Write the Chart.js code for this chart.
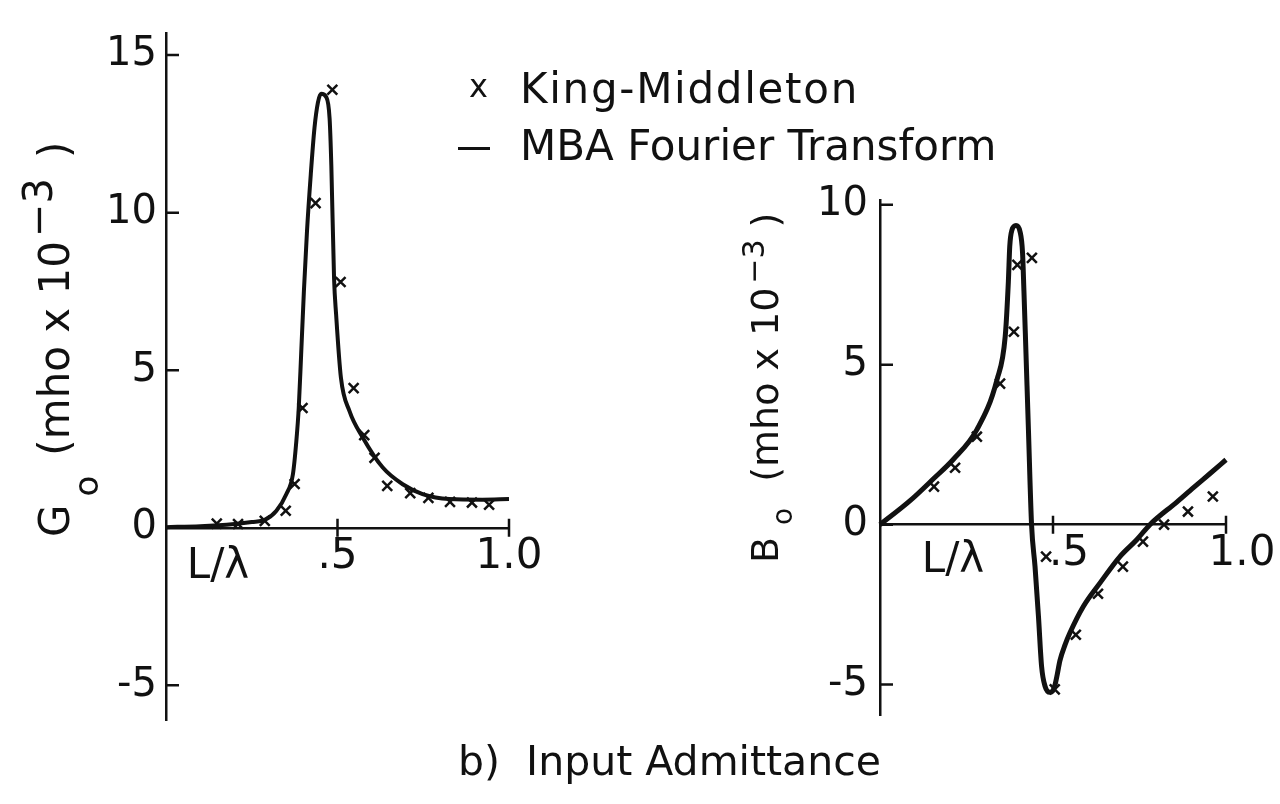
<!DOCTYPE html>
<html>
<head>
<meta charset="utf-8">
<script src="https://cdn.jsdelivr.net/npm/chart.js@4.4.1/dist/chart.umd.min.js"></script>
<style>
  html, body { margin: 0; padding: 0; background: #fff; }
  body { width: 1280px; height: 804px; position: relative; overflow: hidden; font-family: 'DejaVu Sans', sans-serif; color: #111; }
  .plot { position: absolute; top: 0; width: 640px; height: 804px; }
  #gWrap { left: 0; }
  #bWrap { left: 640px; }
  .txt { position: absolute; white-space: pre; line-height: 1; }
  .key-mark { left: 469px; top: 70px; font-size: 32px; }
  .key-dash { position: absolute; left: 458px; top: 147px; width: 32px; height: 3px; background: #111; }
  .key1 { left: 520px; top: 68px; font-size: 42px; letter-spacing: 1.7px; }
  .key2 { left: 520px; top: 125px; font-size: 42px; }
  .caption { left: 458px; top: 741px; font-size: 41px; }
</style>
</head>
<body>
<div class="plot" id="gWrap"><canvas id="gChart"></canvas></div>
<div class="plot" id="bWrap"><canvas id="bChart"></canvas></div>

<div class="txt key-mark">x</div>
<div class="txt key1">King-Middleton</div>
<div class="key-dash"></div>
<div class="txt key2">MBA Fourier Transform</div>
<div class="txt caption">b)  Input Admittance</div>

<script>
const INK = '#111';
const FONT = '"DejaVu Sans", sans-serif';

// L/lambda positions shared by both panels
const xTicks = [0.5, 1.0];
const xTickLabels = ['.5', '1.0'];

// Conductance G_o (mho x 10^-3)
const gTicks = [-5, 0, 5, 10, 15];
const gCurveX = [0, 0.1, 0.2, 0.25, 0.288, 0.322, 0.351, 0.37, 0.38, 0.387, 0.394, 0.402, 0.411, 0.422, 0.433, 0.443, 0.452, 0.467, 0.477, 0.482, 0.49, 0.496, 0.51, 0.535, 0.574, 0.632, 0.69, 0.748, 0.826, 0.922, 1.0];
const gCurveY = [0.02, 0.05, 0.12, 0.18, 0.25, 0.54, 1.07, 1.7, 2.75, 3.8, 5.5, 7.5, 9.4, 11.2, 12.7, 13.5, 13.77, 13.67, 12.98, 11.5, 7.9, 6.76, 4.76, 3.7, 2.86, 1.91, 1.38, 1.07, 0.91, 0.89, 0.91];
const gKingX = [0.148, 0.21, 0.288, 0.349, 0.375, 0.398, 0.436, 0.485, 0.509, 0.547, 0.578, 0.608, 0.645, 0.712, 0.765, 0.828, 0.892, 0.942];
const gKingY = [0.13, 0.12, 0.22, 0.54, 1.39, 3.8, 10.3, 13.9, 7.8, 4.43, 2.94, 2.22, 1.33, 1.1, 0.95, 0.82, 0.8, 0.73];

// Susceptance B_o (mho x 10^-3)
const bTicks = [-5, 0, 5, 10];
const bCurveX = [0, 0.087, 0.156, 0.211, 0.28, 0.338, 0.362, 0.371, 0.375, 0.381, 0.393, 0.405, 0.412, 0.416, 0.42, 0.429, 0.438, 0.448, 0.458, 0.467, 0.477, 0.491, 0.499, 0.506, 0.512, 0.52, 0.535, 0.549, 0.588, 0.636, 0.694, 0.742, 0.78, 0.857, 0.906, 0.954, 1.0];
const bCurveY = [0, 0.75, 1.45, 2.03, 2.97, 4.53, 5.9, 7.6, 8.7, 9.2, 9.35, 9.15, 8.5, 7.3, 6.0, 2.97, 0, -1.3, -2.87, -4.43, -5.05, -5.24, -5.2, -5.0, -4.7, -4.25, -3.75, -3.38, -2.55, -1.82, -0.99, -0.47, 0, 0.7, 1.16, 1.6, 2.03];
const bKingX = [0.156, 0.217, 0.28, 0.347, 0.387, 0.397, 0.439, 0.48, 0.505, 0.566, 0.63, 0.702, 0.76, 0.821, 0.89, 0.962];
const bKingY = [1.19, 1.78, 2.75, 4.41, 6.03, 8.12, 8.34, -1.0, -5.15, -3.44, -2.16, -1.31, -0.53, 0.0, 0.41, 0.88];

const zip = (xs, ys) => xs.map((x, i) => ({ x, y: ys[i] }));

// rotated axis title with subscript and superscript pieces
function drawYTitle(ctx, baseX, bottom, t) {
    ctx.save();
    ctx.translate(baseX, bottom);
    ctx.rotate(-Math.PI / 2);
    ctx.fillStyle = INK;
    ctx.textAlign = 'left';
    ctx.textBaseline = 'alphabetic';
    let pos = 0;
    const put = (txt, size, dy, gap) => {
        pos += gap;
        ctx.font = `${size}px ${FONT}`;
        ctx.fillText(txt, pos, dy);
        pos += ctx.measureText(txt).width;
    };
    put(t.sym, t.size, 0, 0);
    put('o', t.subSize, t.subDy, t.subGap);
    put('(mho x 10', t.size, 0, t.gap);
    put('\u22123', t.supSize, t.supDy, 4);
    put(')', t.size, 0, t.closeGap);
    ctx.restore();
}

const axisMarks = {
    id: 'axisMarks',
    afterDraw(chart, args, opts) {
        const { ctx, scales: { x, y } } = chart;
        const x0 = x.getPixelForValue(0);
        const y0 = y.getPixelForValue(0);
        ctx.save();
        ctx.strokeStyle = INK;
        ctx.lineWidth = 2.5;
        ctx.beginPath();
        y.ticks.forEach(t => {
            const py = y.getPixelForValue(t.value);
            ctx.moveTo(x0, py);
            ctx.lineTo(x0 + 13, py);
        });
        x.ticks.forEach(t => {
            const px = x.getPixelForValue(t.value);
            ctx.moveTo(px, y0 - 9);
            ctx.lineTo(px, y0 + 9);
        });
        ctx.stroke();

        ctx.fillStyle = INK;
        ctx.font = `42px ${FONT}`;
        ctx.textAlign = 'center';
        ctx.textBaseline = 'alphabetic';
        ctx.fillText('L/\u03bb', x0 + opts.lambdaDx, opts.lambdaY);
        ctx.restore();

        drawYTitle(ctx, opts.title.x, opts.title.bottom, opts.title);
    }
};

function makeChart(id, cfg) {
    return new Chart(document.getElementById(id), {
        type: 'scatter',
        data: {
            datasets: [
                {
                    label: 'MBA Fourier Transform',
                    data: zip(cfg.curveX, cfg.curveY),
                    showLine: true,
                    borderColor: INK,
                    borderWidth: cfg.lineWidth,
                    cubicInterpolationMode: 'monotone',
                    pointRadius: 0,
                    clip: false
                },
                {
                    label: 'King-Middleton',
                    data: zip(cfg.kingX, cfg.kingY),
                    showLine: false,
                    pointStyle: 'crossRot',
                    pointRadius: 7,
                    borderColor: INK,
                    borderWidth: 2.5,
                    clip: false
                }
            ]
        },
        options: {
            responsive: true,
            maintainAspectRatio: false,
            animation: false,
            layout: { padding: cfg.padding },
            plugins: {
                legend: { display: false },
                tooltip: { enabled: false },
                axisMarks: cfg.marks
            },
            scales: {
                x: {
                    type: 'linear',
                    position: { y: 0 },
                    min: 0,
                    max: 1.0,
                    afterBuildTicks: s => { s.ticks = xTicks.map(v => ({ value: v })); },
                    ticks: {
                        color: INK,
                        font: { family: FONT, size: 42 },
                        padding: 4,
                        labelOffset: cfg.xLabelOffset,
                        maxRotation: 0,
                        callback: v => xTickLabels[xTicks.indexOf(v)]
                    },
                    grid: { display: false, drawTicks: false },
                    border: { color: INK, width: 2.5 }
                },
                y: {
                    type: 'linear',
                    position: 'left',
                    min: cfg.yMin,
                    max: cfg.yMax,
                    afterBuildTicks: s => { s.ticks = cfg.yTicks.map(v => ({ value: v })); },
                    afterFit: s => { s.width = cfg.yWidth; },
                    ticks: {
                        color: INK,
                        font: { family: FONT, size: 40 },
                        padding: cfg.yPad
                    },
                    grid: { display: false, drawTicks: false },
                    border: { color: INK, width: 2.5 }
                }
            }
        },
        plugins: [axisMarks]
    });
}

makeChart('gChart', {
    curveX: gCurveX, curveY: gCurveY, kingX: gKingX, kingY: gKingY,
    lineWidth: 4,
    yTicks: gTicks, yMin: -6.1, yMax: 15.7,
    yWidth: 166, yPad: 9,
    padding: { left: 0, top: 30, right: 131, bottom: 84 },
    xLabelOffset: 0,
    marks: {
        lambdaDx: 52, lambdaY: 578,
        title: { x: 69, bottom: 537, sym: 'G', size: 42, subSize: 34, subDy: 29, subGap: 8, gap: 20, supSize: 40, supDy: -17, closeGap: 20 }
    }
});

makeChart('bChart', {
    curveX: bCurveX, curveY: bCurveY, kingX: bKingX, kingY: bKingY,
    lineWidth: 5,
    yTicks: bTicks, yMin: -5.95, yMax: 10.15,
    yWidth: 240, yPad: 12,
    padding: { left: 0, top: 200, right: 54, bottom: 89 },
    xLabelOffset: 16,
    marks: {
        lambdaDx: 73, lambdaY: 572,
        title: { x: 138, bottom: 563, sym: 'B', size: 38, subSize: 28, subDy: 14, subGap: 12, gap: 26, supSize: 30, supDy: -14, closeGap: 12 }
    }
});
</script>
</body>
</html>
